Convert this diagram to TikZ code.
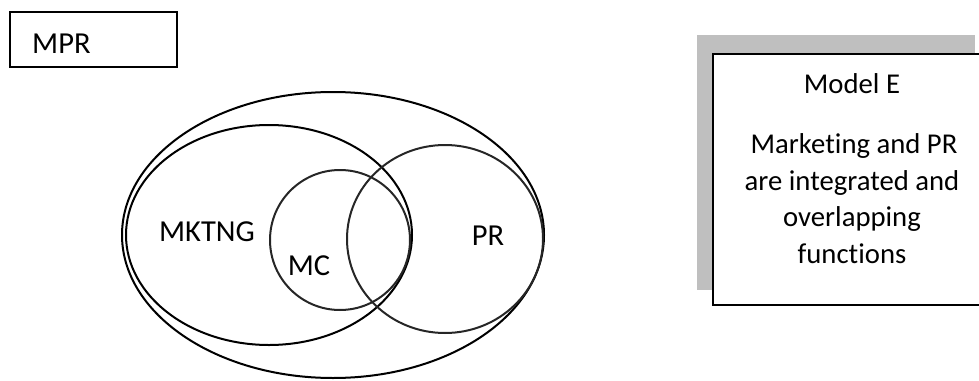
\documentclass[tikz,border=0pt]{standalone}
\usepackage{fontspec}
\setmainfont{Carlito}[RawFeature={-liga;-clig;-calt;-dlig}]
\begin{document}
\begin{tikzpicture}[x=1pt,y=-1pt,
  lbl/.style={font=\fontsize{28.7}{36}\selectfont, inner sep=0pt, anchor=base},
  setlbl/.style={lbl, font=\fontsize{30.5}{36}\selectfont},
  setline/.style={draw=black, line width=2pt},
  boxline/.style={draw=black, line width=1.4pt}]
\useasboundingbox (0,0) rectangle (979,380);
\clip (0,0) rectangle (979,380);

% title box
\draw[boxline] (10,12) rectangle (177,67);
\node[setlbl, anchor=base west] (mpr) at (32,53) {MPR};

% nested sets
\draw[setline] (333,235) ellipse [x radius=211, y radius=143];
\draw[setline] (269,235) ellipse [x radius=143, y radius=110];
\draw[setline, draw=black!85] (445,239) ellipse [x radius=98, y radius=94];
\draw[setline, draw=black!85] (340,240) circle [radius=70];

\node[setlbl] (mktng) at (207,241) {MKTNG};
\node[setlbl] (mc) at (309,275) {MC};
\node[setlbl] (pr) at (488,245) {PR};

% explanation box with shadow
\fill[black!25] (697,35) rectangle (975,290);
\fill[white] (713,54) rectangle (991,305);
\draw[boxline] (713,54) rectangle (991,305);
\node[lbl] (title) at (852,93) {Model E};
\node[lbl] (l1) at (854,153) {Marke\kern0ptting and PR};
\node[lbl] (l2) at (852,190) {are integrated and};
\node[lbl] (l3) at (852,226) {overlapping};
\node[lbl] (l4) at (852,263) {func\kern0ptti\kern0ptons};
\end{tikzpicture}
\end{document}
